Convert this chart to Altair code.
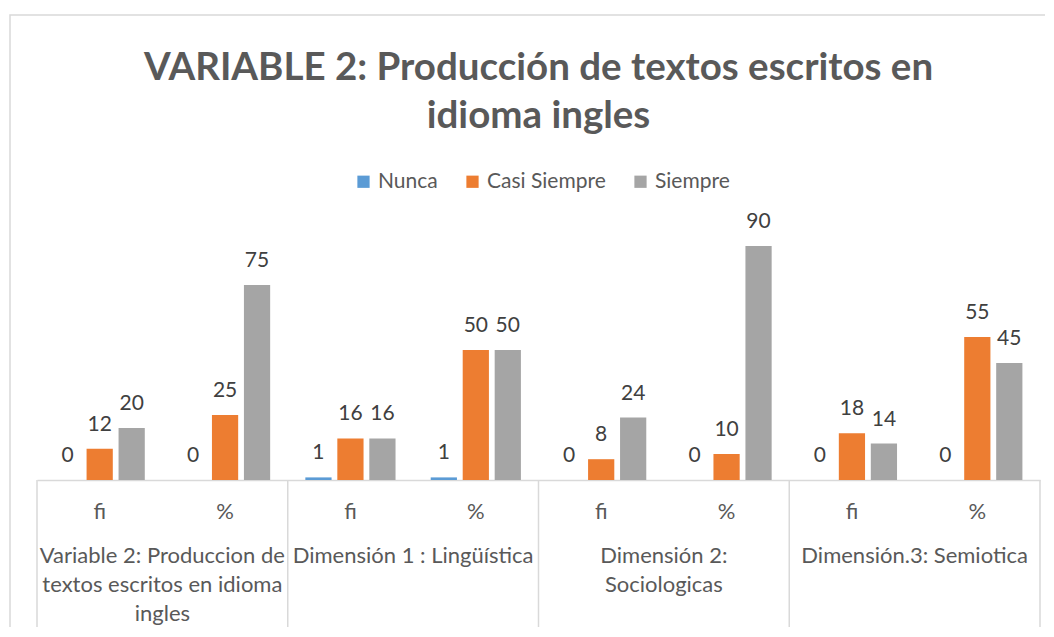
import altair as alt
import pandas as pd

groups = [
    "Variable 2: Produccion de\ntextos escritos en idioma\ningles",
    "Dimensión 1 : Lingüística",
    "Dimensión 2:\nSociologicas",
    "Dimensión.3: Semiotica",
]
subs = ["fi", "%"]
series = ["Nunca", "Casi Siempre", "Siempre"]
colors = ["#5B9BD5", "#ED7D31", "#A5A5A5"]

# values per group, per sub (fi, %), per series (Nunca, Casi Siempre, Siempre)
nunca = [0, 0, 1, 1, 0, 0, 0, 0]
casi_siempre = [12, 25, 16, 50, 8, 10, 18, 55]
siempre = [20, 75, 16, 50, 24, 90, 14, 45]

rows = []
keys = []
for gi, g in enumerate(groups):
    for si, s in enumerate(subs):
        idx = gi * 2 + si
        key = f"{idx}|{s}"
        keys.append(key)
        for name, vals in zip(series, [nunca, casi_siempre, siempre]):
            rows.append({"key": key, "group": g, "sub": s, "series": name, "value": vals[idx]})
df = pd.DataFrame(rows)
gdf = pd.DataFrame({"group": groups})

W, H = 1003, 260
FONT = "Lato"
TXT = "#595959"
LINE = "#D9D9D9"

xsub = alt.X("key:N", sort=keys, title=None,
             scale=alt.Scale(paddingInner=0, paddingOuter=0),
             axis=alt.Axis(labelExpr="split(datum.label, '|')[1]", ticks=False,
                           domainColor=LINE, domainWidth=1.5, labelFontSize=22,
                           labelColor=TXT, labelFont=FONT, labelAngle=0,
                           labelBaseline="middle", labelPadding=31, grid=False))
xoff = alt.XOffset("series:N", sort=series,
                   scale=alt.Scale(paddingInner=0.18, paddingOuter=0.55))
yq = alt.Y("value:Q", scale=alt.Scale(domain=[0, 100]), axis=None)

bars = alt.Chart(df).mark_bar().encode(
    x=xsub, xOffset=xoff, y=yq,
    color=alt.Color("series:N", sort=series,
                    scale=alt.Scale(domain=series, range=colors),
                    legend=alt.Legend(title=None, orient="none", direction="horizontal",
                                      legendX=316, legendY=-49, symbolType="square",
                                      symbolSize=150, symbolStrokeWidth=0,
                                      labelFontSize=21, labelFont=FONT, labelColor=TXT,
                                      labelOffset=4, columnPadding=24, padding=0)),
)
vals = alt.Chart(df).mark_text(baseline="alphabetic", dy=-18, fontSize=21,
                               font=FONT, color="#404040").encode(
    x=xsub, xOffset=xoff, y=yq, text="value:Q")
sub_layer = alt.layer(bars, vals)

xg = alt.X("group:N", sort=groups, axis=None, scale=alt.Scale(paddingInner=0, paddingOuter=0))
glabels = alt.Chart(gdf).mark_text(lineBreak="\n", lineHeight=29, baseline="top",
                                   fontSize=22, font=FONT, color=TXT).encode(
    x=xg, y=alt.value(326), text="group:N")
seps = alt.Chart(gdf).mark_rule(color=LINE, strokeWidth=1.5).encode(
    x=alt.X("group:N", sort=groups, axis=None, bandPosition=0,
            scale=alt.Scale(paddingInner=0, paddingOuter=0)),
    y=alt.value(H), y2=alt.value(H + 160))
sep_end = alt.Chart(gdf).transform_filter(
    alt.datum.group == groups[-1]).mark_rule(color=LINE, strokeWidth=1.5).encode(
    x=alt.X("group:N", sort=groups, axis=None, bandPosition=1,
            scale=alt.Scale(paddingInner=0, paddingOuter=0)),
    y=alt.value(H), y2=alt.value(H + 160))
group_layer = alt.layer(glabels, seps, sep_end)

frame = alt.Chart(pd.DataFrame({"f": [0]})).mark_rect(
    fill=None, stroke=LINE, strokeWidth=1.5).encode(
    x=alt.value(-27), x2=alt.value(W + 40), y=alt.value(-205), y2=alt.value(H + 200))

chart = alt.layer(frame, sub_layer, group_layer).resolve_scale(
    x="independent"
).properties(
    width=W, height=H,
    title=alt.Title(["VARIABLE 2: Producción de textos escritos en", "idioma ingles"],
                    fontSize=38.5, font=FONT, fontWeight="bold", color=TXT,
                    lineHeight=48, anchor="middle", offset=-122),
    padding={"left": 29, "top": 212, "right": 5, "bottom": 147},
    autosize=alt.AutoSizeParams(type="none"),
).configure_view(stroke=None)

chart.save("out.html", embed_options={"renderer": "svg", "actions": False})
